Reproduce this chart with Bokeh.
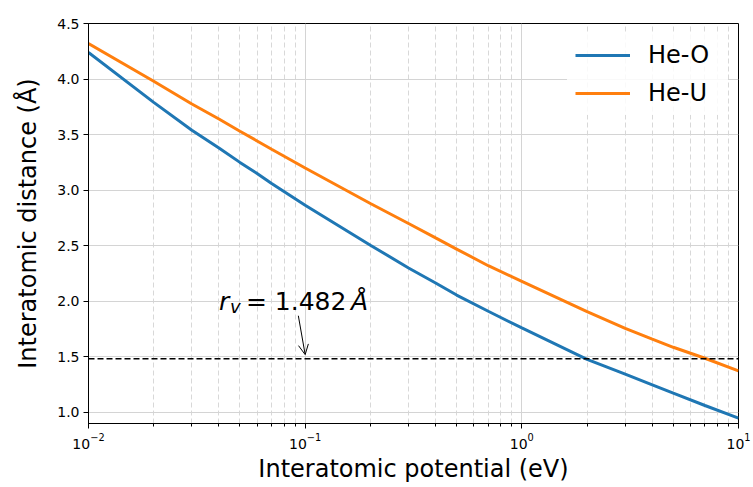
from bokeh.plotting import figure
from bokeh.models import (Range1d, FixedTicker, Span, Label, Arrow, OpenHead, Legend,
                          LegendItem, NumeralTickFormatter)
from bokeh.embed import file_html
from bokeh.resources import INLINE

energy = [0.01, 0.02, 0.03, 0.04, 0.05, 0.06, 0.07, 0.1, 0.2, 0.3, 0.4, 0.5, 0.7,
          1, 2, 3, 4, 5, 7, 10]
he_o = [4.24, 3.79, 3.54, 3.38, 3.25, 3.15, 3.06, 2.865, 2.505, 2.30, 2.165, 2.056, 1.91,
        1.76, 1.478, 1.344, 1.248, 1.173, 1.062, 0.948]
he_u = [4.32, 3.98, 3.775, 3.64, 3.53, 3.443, 3.368, 3.20, 2.88, 2.70, 2.57, 2.47, 2.32,
        2.18, 1.906, 1.757, 1.66, 1.586, 1.487, 1.373]
r_v = 1.482
y_ticks = [1.0, 1.5, 2.0, 2.5, 3.0, 3.5, 4.0, 4.5]

FONT = "DejaVu Sans"

p = figure(width=753, height=487, x_axis_type="log",
           x_range=Range1d(0.01, 10), y_range=Range1d(0.9, 4.5),
           output_backend="svg", toolbar_location=None,
           min_border_left=88, min_border_right=15, min_border_top=23, min_border_bottom=64)

p.outline_line_color = "black"
p.outline_line_width = 1
p.background_fill_color = "white"

# grids
p.xgrid.grid_line_color = "#d4d4d4"
p.xgrid.grid_line_width = 1
p.xgrid.minor_grid_line_color = "#d8d8d8"
p.xgrid.minor_grid_line_dash = "5 3"
p.xgrid.minor_grid_line_width = 1
p.ygrid.grid_line_color = "#d4d4d4"
p.ygrid.grid_line_width = 1

p.yaxis.ticker = FixedTicker(ticks=y_ticks)
p.yaxis.formatter = NumeralTickFormatter(format="0.0")

for ax in (p.xaxis[0], p.yaxis[0]):
    ax.major_label_text_font = FONT
    ax.major_label_text_font_size = "14px"
    ax.major_label_text_color = "black"
    ax.axis_label_text_font = FONT
    ax.axis_label_text_font_size = "24px"
    ax.axis_label_text_font_style = "normal"
    ax.axis_label_text_color = "black"
    ax.axis_line_color = "black"
    ax.major_tick_line_color = "black"
    ax.major_tick_in = 0
    ax.major_tick_out = 5
    ax.minor_tick_in = 0
    ax.minor_tick_out = 3
    ax.minor_tick_line_color = "black"
    ax.major_label_standoff = 4
p.yaxis.minor_tick_line_color = None
p.xaxis.axis_label = "Interatomic potential (eV)"
p.yaxis.axis_label = "Interatomic distance (Å)"
p.xaxis.axis_label_standoff = 3
p.yaxis.axis_label_standoff = 12

r1 = p.line(energy, he_o, line_color="#1f77b4", line_width=3)
r2 = p.line(energy, he_u, line_color="#ff7f0e", line_width=3)

span = Span(location=r_v, dimension="width", line_color="black", line_dash="6 3",
            line_width=1.5)
p.add_layout(span)

arrow = Arrow(end=OpenHead(size=10, line_color="black", line_width=1),
              x_start=0.093, y_start=1.87, x_end=0.1, y_end=1.52,
              line_color="black", line_width=1)
p.add_layout(arrow)

base_x, base_y = 0.04, 2.0
p.add_layout(Label(x=base_x, y=base_y, text="r", text_font=FONT, text_font_style="italic",
                   text_font_size="25px", text_baseline="alphabetic", text_color="black"))
p.add_layout(Label(x=base_x, y=base_y, x_offset=11, y_offset=-5, text="v", text_font=FONT,
                   text_font_style="italic", text_font_size="18px", text_baseline="alphabetic",
                   text_color="black"))
p.add_layout(Label(x=base_x, y=base_y, x_offset=27, text="= 1.482", text_font=FONT,
                   text_font_size="25px", text_baseline="alphabetic", text_color="black"))
p.add_layout(Label(x=base_x, y=base_y, x_offset=132, text="Å", text_font=FONT,
                   text_font_style="italic", text_font_size="25px", text_baseline="alphabetic",
                   text_color="black"))

legend = Legend(items=[LegendItem(label="He-O", renderers=[r1]),
                       LegendItem(label="He-U", renderers=[r2])],
                location="top_right")
legend.label_text_font = FONT
legend.label_text_font_size = "24px"
legend.label_text_color = "black"
legend.glyph_width = 55
legend.glyph_height = 28
legend.label_height = 28
legend.label_width = 72
legend.spacing = 10
legend.label_standoff = 18
legend.padding = 8
legend.margin = 10
legend.border_line_alpha = 0
legend.background_fill_alpha = 0.85
p.add_layout(legend)

open("out.html", "w").write(file_html(p, INLINE))
